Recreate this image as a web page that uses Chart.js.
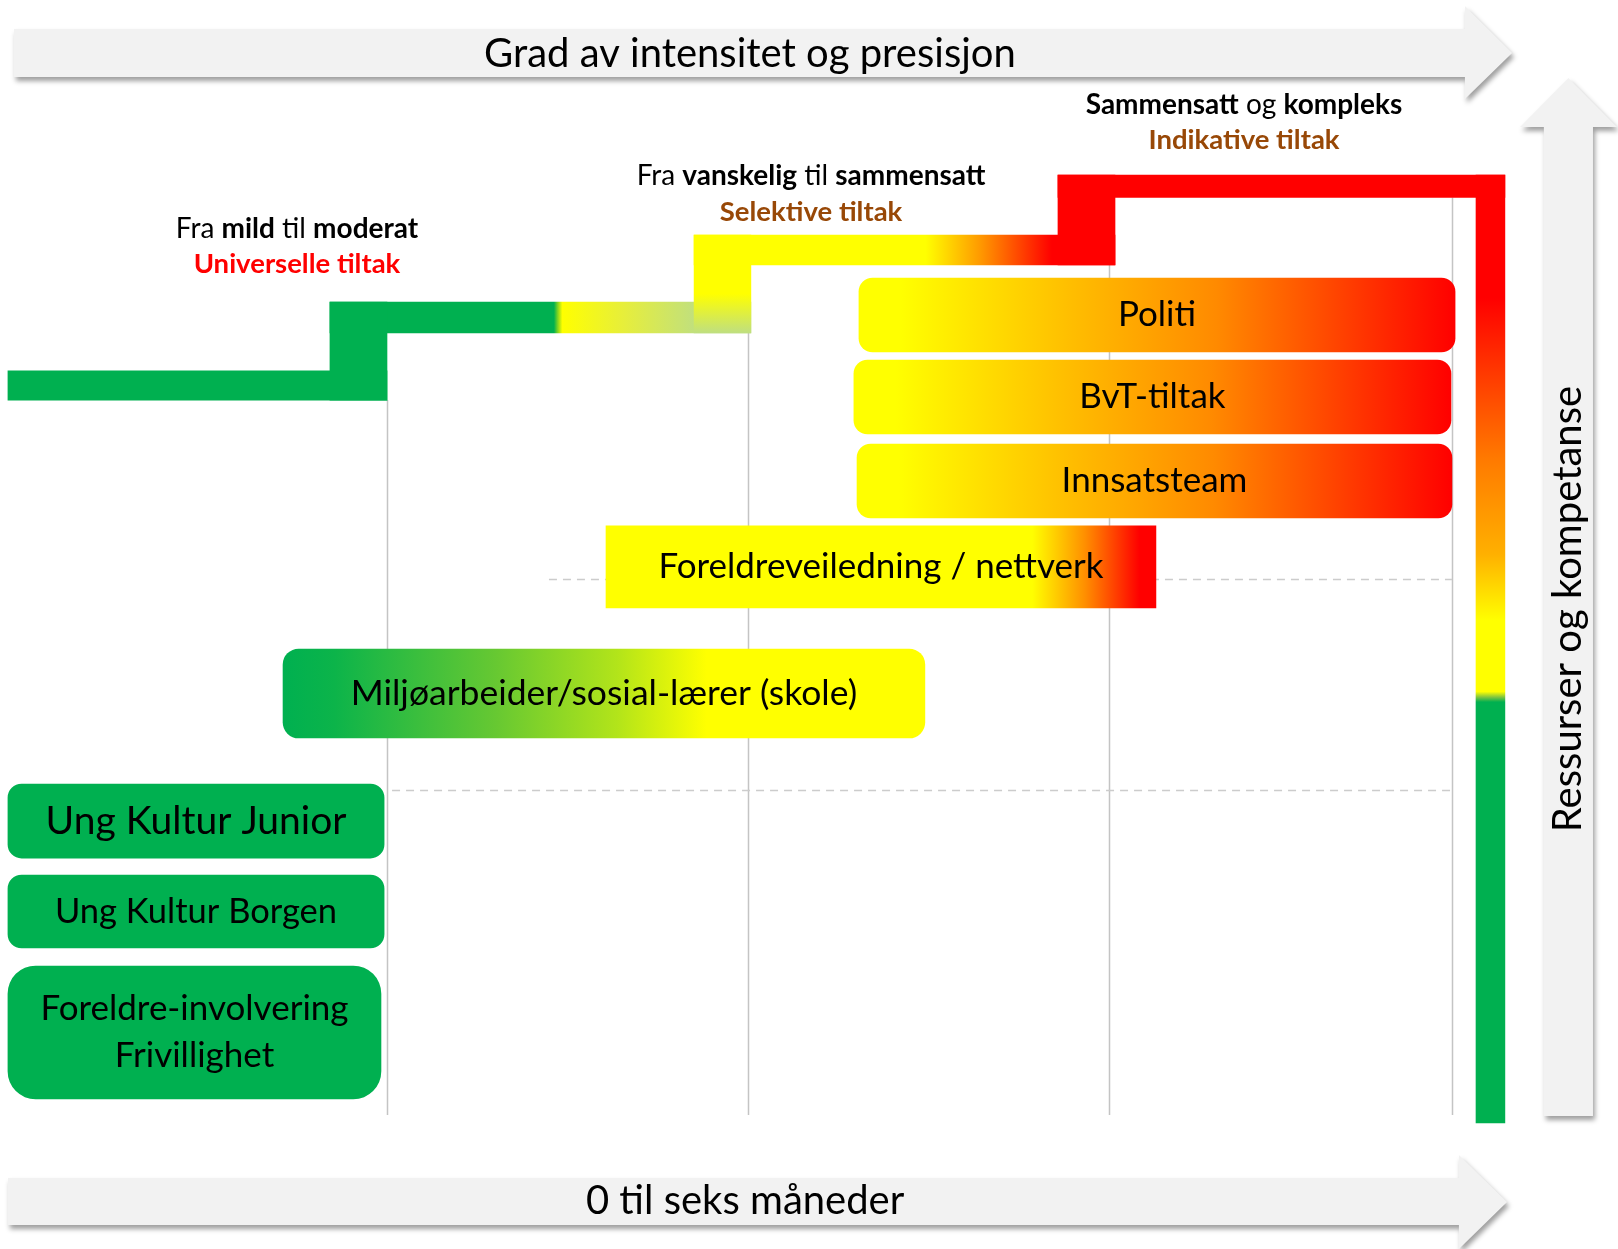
<!DOCTYPE html>
<html lang="no">
<head>
<meta charset="utf-8">
<title>Tiltakstrapp</title>
<script src="https://cdn.jsdelivr.net/npm/chart.js@4.4.1/dist/chart.umd.min.js"></script>
<style>
    html, body {
        margin: 0;
        padding: 0;
        background: #ffffff;
    }

    #wrap {
        width: 1618px;
        height: 1249px;
    }
</style>
</head>
<body>
<div id="wrap"><canvas id="chart" width="1618" height="1249"></canvas></div>
<script>
// x axis: months (0 til seks maneder), y axis: level, 0 = top of page, 100 = bottom

// Tiltak boxes
const boxLabels = ['Politi', 'BvT-tiltak', 'Innsatsteam', 'Foreldreveiledning / nettverk',
    'Miljøarbeider/sosial-lærer (skole)', 'Ung Kultur Junior', 'Ung Kultur Borgen',
    ['Foreldre-involvering', 'Frivillighet']]
const boxStart = [3.461, 3.440, 3.453, 2.410, 1.068, -0.075, -0.075, -0.075]
const boxEnd = [5.938, 5.921, 5.925, 4.695, 3.735, 1.488, 1.488, 1.475]
const boxTop = [22.26, 28.82, 35.55, 42.11, 51.96, 62.77, 70.06, 77.34]
const boxBottom = [28.18, 34.75, 41.47, 48.68, 59.09, 68.70, 75.90, 87.99]

// The staircase (universelle -> selektive -> indikative)
const stepNames = ['Trinn 1', 'Opp 1', 'Trinn 2', 'Opp 2', 'Trinn 3', 'Opp 3', 'Trinn 4', 'Ressurser']
const stepStart = [-0.075, 1.263, 1.263, 2.776, 2.776, 4.288, 4.288, 6.025]
const stepEnd = [1.500, 1.500, 3.012, 3.012, 4.525, 4.525, 6.145, 6.145]
const stepTop = [29.70, 24.18, 24.18, 18.82, 18.82, 14.01, 14.01, 14.01]
const stepBottom = [32.03, 32.03, 26.66, 26.66, 21.22, 21.22, 15.81, 89.91]

// Grid: phase lines and dashed level lines
const phaseTicks = [1.5, 3, 4.5, 5.925]
const phaseFrom = [32.03, 26.66, 21.22, 15.81]
const phaseTo = 89.27
const dashLevels = [46.36, 63.25]
const dashFrom = [2.173, 1.521]

// Band headings above the steps
const bandHeads = [
    [['Fra ', 0], ['mild', 1], [' til ', 0], ['moderat', 1]],
    [['Fra ', 0], ['vanskelig', 1], [' til ', 0], ['sammensatt', 1]],
    [['Sammensatt', 1], [' og ', 0], ['kompleks', 1]]
]
const bandNames = ['Universelle tiltak', 'Selektive tiltak', 'Indikative tiltak']
const bandX = [1.126, 3.262, 5.061]
const bandHeadY = [18.33, 14.09, 8.41]
const bandNameY = [21.14, 16.97, 11.21]

const X_MIN = -0.108
const X_MAX = 6.615
const PX_PER_LEVEL = 1249 / 100
const FONT = 'Lato, "Open Sans", sans-serif'

const GREEN = '#00b050'
const YELLOW = '#ffff00'
const RED = '#ff0000'
const BROWN = '#984807'
const PALE = '#bfdf80'

const hotStops = [[0, YELLOW], [0.07, YELLOW], [0.35, '#ffbf00'], [0.6, '#ff8a00'], [0.85, '#ff3300'], [1, RED]]
const parentStops = [[0, YELLOW], [0.775, YELLOW], [0.87, '#ff9000'], [0.97, RED], [1, RED]]
const schoolStops = [[0, GREEN], [0.08, '#0cb44a'], [0.33, '#66c832'], [0.52, '#b2e41a'], [0.66, YELLOW], [1, YELLOW]]
const boxFill = [hotStops, hotStops, hotStops, parentStops, schoolStops, GREEN, GREEN, GREEN]
const boxRadius = [14, 14, 14, 0, 16, 14, 14, 28]
const boxFont = [35, 35, 35, 35, 35.5, 39, 34.5, 35]

const stepFill = [
    GREEN,
    GREEN,
    [[0, GREEN], [0.532, GREEN], [0.541, '#7ed321'], [0.552, YELLOW], [0.7, '#e6ee3c'], [0.874, PALE], [1, PALE]],
    [[0, YELLOW], [0.6, YELLOW], [1, PALE]],
    [[0, YELLOW], [0.55, YELLOW], [0.68, '#ff9900'], [0.85, RED], [1, RED]],
    RED,
    RED,
    [[0, RED], [0.13, RED], [0.3, '#ff7a00'], [0.4, '#ffb000'], [0.47, YELLOW], [0.545, YELLOW],
        [0.551, '#7cc440'], [0.556, GREEN], [1, GREEN]]
]
const stepVertical = [false, false, false, true, false, false, false, true]
// lower order is painted last, so the yellow riser sits on top of its step
const stepOrder = [0, 0, 0, -1, 0, 0, 0, 0]

/**
 * Returns a fill that is either a plain colour or a gradient across the bar.
 */
function barFill(stops, vertical) {
    if (typeof stops === 'string') {
        return stops
    }
    return (context) => {
        const chart = context.chart
        if (!chart.chartArea || !context.raw) {
            return stops[0][1]
        }
        const { x, y } = chart.scales
        const raw = context.raw
        let gradient
        if (vertical) {
            const mid = y.getPixelForValue(raw.y)
            const half = context.dataset.barThickness / 2
            gradient = chart.ctx.createLinearGradient(0, mid - half, 0, mid + half)
        } else {
            gradient = chart.ctx.createLinearGradient(
                x.getPixelForValue(raw.x[0]), 0, x.getPixelForValue(raw.x[1]), 0)
        }
        stops.forEach(([offset, colour]) => gradient.addColorStop(offset, colour))
        return gradient
    }
}

function makeDataset(label, start, end, top, bottom, fill, vertical, radius, order) {
    return {
        label,
        data: [{ x: [start, end], y: (top + bottom) / 2 }],
        barThickness: (bottom - top) * PX_PER_LEVEL,
        backgroundColor: barFill(fill, vertical),
        borderWidth: 0,
        borderSkipped: false,
        borderRadius: radius,
        grouped: false,
        order
    }
}

const datasets = []
boxLabels.forEach((label, i) => {
    datasets.push(makeDataset(label, boxStart[i], boxEnd[i], boxTop[i], boxBottom[i],
        boxFill[i], false, boxRadius[i], 0))
})
stepNames.forEach((label, i) => {
    datasets.push(makeDataset(label, stepStart[i], stepEnd[i], stepTop[i], stepBottom[i],
        stepFill[i], stepVertical[i], 0, stepOrder[i]))
})

// Big grey arrows, in axis units
const arrows = [
    [[-0.050, 2.32], [5.979, 2.32], [5.979, 0.48], [6.175, 4.24], [5.979, 7.93], [5.979, 6.16], [-0.050, 6.16]],
    [[-0.075, 94.32], [5.954, 94.32], [5.954, 92.47], [6.154, 96.24], [5.954, 100.0], [5.954, 98.08], [-0.075, 98.08]],
    [[6.307, 89.35], [6.307, 10.17], [6.208, 10.17], [6.409, 6.25], [6.611, 10.17], [6.511, 10.17], [6.511, 89.35]]
]

function drawRich(ctx, parts, cx, cy, size) {
    const widths = parts.map(([text, bold]) => {
        ctx.font = `${bold ? 'bold ' : ''}${size}px ${FONT}`
        return ctx.measureText(text).width
    })
    let left = cx - widths.reduce((a, b) => a + b, 0) / 2
    parts.forEach(([text, bold], i) => {
        ctx.font = `${bold ? 'bold ' : ''}${size}px ${FONT}`
        ctx.fillText(text, left, cy)
        left += widths[i]
    })
}

const backdrop = {
    id: 'backdrop',
    beforeDatasetsDraw(chart) {
        const { ctx, scales: { x, y } } = chart

        ctx.save()
        arrows.forEach((shape) => {
            ctx.beginPath()
            shape.forEach(([m, lv], i) => {
                const px = x.getPixelForValue(m)
                const py = y.getPixelForValue(lv)
                if (i === 0) {
                    ctx.moveTo(px, py)
                } else {
                    ctx.lineTo(px, py)
                }
            })
            ctx.closePath()
            ctx.shadowColor = 'rgba(0, 0, 0, 0.38)'
            ctx.shadowBlur = 5
            ctx.shadowOffsetX = 2
            ctx.shadowOffsetY = 4
            ctx.fillStyle = '#f2f2f2'
            ctx.fill()
        })
        ctx.restore()

        ctx.save()
        ctx.fillStyle = '#000000'
        ctx.textAlign = 'center'
        ctx.textBaseline = 'middle'
        ctx.font = `40px ${FONT}`
        ctx.fillText('Grad av intensitet og presisjon', x.getPixelForValue(3.008), y.getPixelForValue(4.3))
        ctx.fillText('0 til seks måneder', x.getPixelForValue(2.988), y.getPixelForValue(96.2))
        ctx.translate(x.getPixelForValue(6.409), y.getPixelForValue(48.76))
        ctx.rotate(-Math.PI / 2)
        ctx.fillText('Ressurser og kompetanse', 0, 0)
        ctx.restore()

        // phase lines
        ctx.save()
        ctx.strokeStyle = '#c4c4c4'
        ctx.lineWidth = 1.5
        phaseTicks.forEach((m, i) => {
            const px = Math.round(x.getPixelForValue(m)) + 0.5
            ctx.beginPath()
            ctx.moveTo(px, y.getPixelForValue(phaseFrom[i]))
            ctx.lineTo(px, y.getPixelForValue(phaseTo))
            ctx.stroke()
        })
        ctx.setLineDash([8, 6])
        ctx.strokeStyle = '#cccccc'
        dashLevels.forEach((lv, i) => {
            const py = Math.round(y.getPixelForValue(lv)) + 0.5
            ctx.beginPath()
            ctx.moveTo(x.getPixelForValue(dashFrom[i]), py)
            ctx.lineTo(x.getPixelForValue(phaseTicks[phaseTicks.length - 1]), py)
            ctx.stroke()
        })
        ctx.restore()
    },
    afterDatasetsDraw(chart) {
        const { ctx, scales: { x, y } } = chart
        ctx.save()
        ctx.textAlign = 'center'
        ctx.textBaseline = 'middle'
        ctx.fillStyle = '#000000'
        boxLabels.forEach((label, i) => {
            const bar = chart.getDatasetMeta(i).data[0]
            const cx = (bar.x + bar.base) / 2
            ctx.font = `${boxFont[i]}px ${FONT}`
            const lines = Array.isArray(label) ? label : [label]
            const lineHeight = boxFont[i] * 1.35
            lines.forEach((line, j) => {
                ctx.fillText(line, cx, bar.y + (j - (lines.length - 1) / 2) * lineHeight)
            })
        })

        ctx.textAlign = 'left'
        bandHeads.forEach((parts, i) => {
            ctx.fillStyle = '#000000'
            drawRich(ctx, parts, x.getPixelForValue(bandX[i]), y.getPixelForValue(bandHeadY[i]), 28)
        })
        ctx.textAlign = 'center'
        ctx.font = `bold 27.5px ${FONT}`
        bandNames.forEach((name, i) => {
            ctx.fillStyle = i === 0 ? RED : BROWN
            ctx.fillText(name, x.getPixelForValue(bandX[i]), y.getPixelForValue(bandNameY[i]))
        })
        ctx.restore()
    }
}

new Chart(document.getElementById('chart'), {
    type: 'bar',
    data: { datasets },
    options: {
        indexAxis: 'y',
        responsive: false,
        animation: false,
        layout: { padding: 0 },
        scales: {
            x: { type: 'linear', min: X_MIN, max: X_MAX, offset: false, display: false },
            y: { type: 'linear', min: 0, max: 100, reverse: true, offset: false, display: false }
        },
        plugins: {
            legend: { display: false },
            tooltip: { enabled: false }
        }
    },
    plugins: [backdrop]
})
</script>
</body>
</html>
